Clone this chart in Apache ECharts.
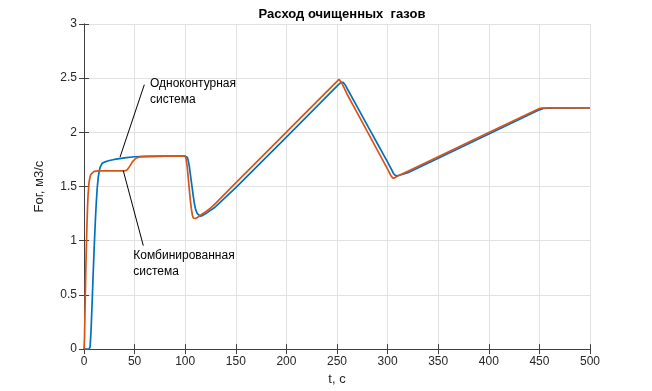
<!DOCTYPE html>
<html>
<head>
<meta charset="utf-8">
<script src="https://cdn.jsdelivr.net/npm/echarts@6/dist/echarts.min.js"></script>
<style>html,body{margin:0;padding:0;background:#fff}#c{width:652px;height:391px}</style>
</head>
<body>
<div id="c"></div>
<script>
// Одноконтурная система (blue)
var tSingle = [0, 5, 6, 7, 8, 9, 10, 11, 12, 13, 14, 15, 16, 18, 20, 25, 30, 40, 50, 60, 80, 100, 101, 102, 103, 104, 105, 106, 107, 108, 109, 110, 111, 112, 113, 115, 117, 120, 125, 128, 130, 150, 200, 250, 252, 254, 255, 256, 258, 260, 270, 280, 290, 300, 304, 306, 308, 310, 320, 350, 400, 450, 454, 458, 500];
var fSingle = [0, 0, 0.02, 0.18, 0.42, 0.68, 0.92, 1.14, 1.33, 1.48, 1.58, 1.64, 1.68, 1.715, 1.725, 1.74, 1.75, 1.765, 1.775, 1.778, 1.78, 1.78, 1.78, 1.77, 1.74, 1.69, 1.62, 1.55, 1.48, 1.41, 1.35, 1.30, 1.27, 1.25, 1.235, 1.226, 1.232, 1.248, 1.28, 1.30, 1.315, 1.49, 1.957, 2.427, 2.445, 2.462, 2.466, 2.462, 2.44, 2.405, 2.235, 2.065, 1.895, 1.725, 1.655, 1.618, 1.598, 1.600, 1.628, 1.762, 1.985, 2.208, 2.221, 2.224, 2.225];

// Комбинированная система (orange)
var tComb = [0, 0.5, 1, 1.5, 2, 2.5, 3, 3.5, 4, 5, 6, 7, 8, 10, 15, 40, 42, 44, 46, 48, 50, 52, 55, 60, 80, 100, 100.5, 101, 102, 103, 104, 105, 106, 107, 108, 109, 110, 112, 115, 120, 125, 130, 150, 200, 250, 252, 253, 255, 260, 270, 280, 290, 300, 303, 305, 307, 310, 320, 350, 400, 450, 452, 500];
var fComb = [0, 0.1, 0.35, 0.6, 0.82, 1.0, 1.17, 1.31, 1.42, 1.54, 1.59, 1.615, 1.63, 1.64, 1.645, 1.645, 1.65, 1.67, 1.70, 1.73, 1.75, 1.765, 1.773, 1.777, 1.78, 1.78, 1.775, 1.75, 1.68, 1.58, 1.48, 1.38, 1.30, 1.24, 1.21, 1.204, 1.205, 1.215, 1.235, 1.265, 1.30, 1.345, 1.533, 2.002, 2.471, 2.49, 2.478, 2.45, 2.352, 2.18, 2.007, 1.834, 1.66, 1.605, 1.578, 1.58, 1.597, 1.642, 1.775, 1.998, 2.22, 2.225, 2.225];

var titleText = 'Расход очищенных  газов';
var xName = 't, с';
var yName = 'Fог, м3/с';
var labelSingle = 'Одноконтурная\nсистема';
var labelComb = 'Комбинированная\nсистема';

function pairs(t, v) { return t.map(function (x, i) { return [x, v[i]]; }); }

var font = 'Liberation Sans, Arial, sans-serif';
var axisCol = '#404040';
var chart = echarts.init(document.getElementById('c'), null, { renderer: 'canvas' });

var frameAxis = {
  axisLine: { show: true, lineStyle: { color: axisCol, width: 1 } },
  axisTick: { show: true, inside: true, length: 5, lineStyle: { color: axisCol } },
  axisLabel: { show: false },
  splitLine: { show: false }
};

chart.setOption({
  animation: false,
  backgroundColor: '#fff',
  title: {
    text: titleText, left: 337, top: 3, textAlign: 'center',
    textStyle: { fontFamily: font, fontSize: 13, fontWeight: 'bold', color: '#000' }
  },
  grid: { left: 84, right: 62, top: 24, bottom: 36, containLabel: false },
  xAxis: [
    {
      type: 'value', min: 0, max: 500, interval: 50, position: 'bottom',
      name: xName, nameLocation: 'middle', nameGap: 22,
      nameTextStyle: { fontFamily: font, fontSize: 13, color: '#262626' },
      axisLine: { show: true, onZero: false, lineStyle: { color: axisCol, width: 1 } },
      axisTick: { show: true, inside: true, length: 5, lineStyle: { color: axisCol } },
      axisLabel: { fontFamily: font, fontSize: 12, color: '#262626', margin: 7 },
      splitLine: { show: true, lineStyle: { color: '#e2e2e2', width: 1 } }
    },
    Object.assign({ type: 'value', min: 0, max: 500, interval: 50, position: 'top' }, frameAxis)
  ],
  yAxis: [
    {
      type: 'value', min: 0, max: 3, interval: 0.5, position: 'left',
      name: yName, nameLocation: 'middle', nameGap: 38,
      nameTextStyle: { fontFamily: font, fontSize: 13, color: '#262626' },
      axisLine: { show: true, onZero: false, lineStyle: { color: axisCol, width: 1 } },
      axisTick: { show: true, inside: true, length: 5, lineStyle: { color: axisCol } },
      axisLabel: { fontFamily: font, fontSize: 12, color: '#262626', margin: 7 },
      splitLine: { show: true, lineStyle: { color: '#e2e2e2', width: 1 } }
    },
    Object.assign({ type: 'value', min: 0, max: 3, interval: 0.5, position: 'right' }, frameAxis)
  ],
  series: [
    {
      type: 'line', name: 'single', data: pairs(tSingle, fSingle),
      showSymbol: false, symbol: 'none', smooth: false,
      lineStyle: { color: '#0072BD', width: 1.7 }, z: 2,
      markLine: {
        silent: true, symbol: ['none', 'none'],
        lineStyle: { color: '#000', width: 1, type: 'solid' },
        label: { show: false },
        data: [[{ coord: [35.6, 1.771] }, { coord: [59.6, 2.44] }]]
      },
      markPoint: {
        silent: true,
        data: [{
          coord: [65.2, 2.376], symbol: 'circle', symbolSize: 0,
          label: { show: true, position: 'inside', align: 'left', verticalAlign: 'middle',
            formatter: labelSingle, fontFamily: font, fontSize: 12, lineHeight: 16, color: '#000' }
        }]
      }
    },
    {
      type: 'line', name: 'comb', data: pairs(tComb, fComb),
      showSymbol: false, symbol: 'none', smooth: false,
      lineStyle: { color: '#D95319', width: 1.7 }, z: 3,
      markLine: {
        silent: true, symbol: ['none', 'none'],
        lineStyle: { color: '#000', width: 1, type: 'solid' },
        label: { show: false },
        data: [[{ coord: [38.8, 1.647] }, { coord: [58.6, 0.955] }]]
      },
      markPoint: {
        silent: true,
        data: [{
          coord: [48.7, 0.79], symbol: 'circle', symbolSize: 0,
          label: { show: true, position: 'inside', align: 'left', verticalAlign: 'middle',
            formatter: labelComb, fontFamily: font, fontSize: 12, lineHeight: 16, color: '#000' }
        }]
      }
    }
  ]
});
</script>
</body>
</html>
